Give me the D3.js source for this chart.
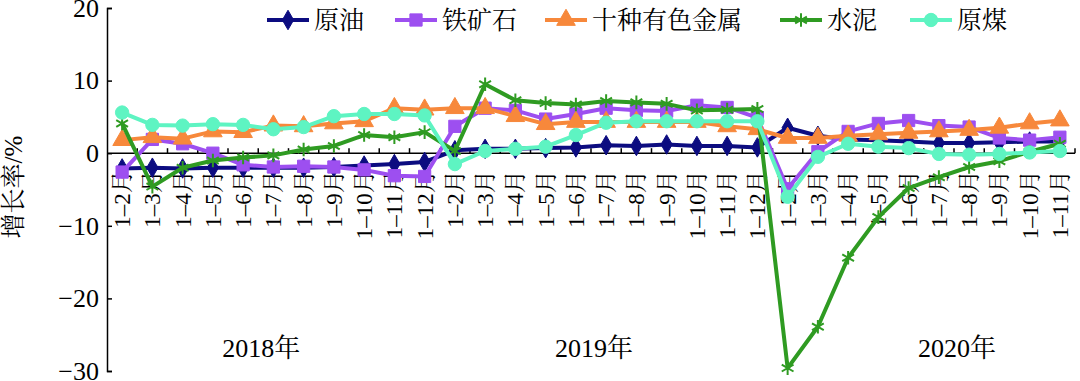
<!DOCTYPE html>
<html><head><meta charset="utf-8">
<script src="https://cdn.jsdelivr.net/npm/d3@7"></script>
<style>
html,body{margin:0;padding:0;background:#fff;}
svg{display:block;}
</style></head>
<body>
<svg id="c" width="1080" height="381"></svg>
<script>
const years = ["2018年", "2019年", "2020年"];
const months2018 = ["1–2月","1–3月","1–4月","1–5月","1–6月","1–7月","1–8月","1–9月","1–10月","1–11月","1–12月"];
const months2019 = ["1–2月","1–3月","1–4月","1–5月","1–6月","1–7月","1–8月","1–9月","1–10月","1–11月","1–12月"];
const months2020 = ["1–2月","1–3月","1–4月","1–5月","1–6月","1–7月","1–8月","1–9月","1–10月","1–11月"];
const seriesNames = ["原油", "铁矿石", "十种有色金属", "水泥", "原煤"];
const crudeOil = [-2.1,-2.0,-2.1,-2.0,-2.0,-2.0,-2.0,-1.9,-1.7,-1.5,-1.2,
                  0.4,0.6,0.6,0.7,0.8,1.1,1.0,1.2,1.0,1.0,0.8,
                  3.5,2.4,1.9,1.8,1.6,1.4,1.4,1.5,1.6,1.6];
const ironOre = [-2.6,1.9,1.3,0.0,-1.6,-1.9,-1.8,-1.9,-2.3,-3.1,-3.2,
                 3.7,6.2,5.9,4.7,5.4,6.2,5.9,5.8,6.6,6.3,4.9,
                 -4.9,0.2,3.0,4.1,4.5,3.8,3.6,2.1,1.8,2.2];
const nonferrous = [1.8,2.2,2.0,3.0,2.9,3.8,3.7,4.1,4.4,6.2,6.0,
                    6.2,6.2,5.1,4.0,4.3,4.3,4.3,4.3,4.3,3.7,3.3,
                    2.1,2.1,2.4,2.6,2.8,3.0,3.2,3.5,4.1,4.5];
const cement = [4.1,-4.6,-2.0,-1.0,-0.6,-0.3,0.5,1.0,2.5,2.2,2.9,
                0.3,9.5,7.3,6.9,6.7,7.2,7.0,6.8,5.9,6.0,6.1,
                -29.6,-23.9,-14.4,-8.8,-4.8,-3.3,-1.9,-1.1,0.2,1.3];
const rawCoal = [5.6,3.9,3.8,4.0,3.9,3.3,3.6,5.1,5.4,5.4,5.2,
                 -1.5,0.3,0.6,0.9,2.5,4.2,4.4,4.4,4.4,4.4,4.4,
                 -6.0,-0.5,1.3,0.9,0.7,-0.1,-0.2,-0.1,0.1,0.3];
const yTicks = [20, 10, 0, -10, -20, -30];

const yearMonths = [months2018, months2019, months2020];
const categories = [];
yearMonths.forEach((ms, yi) => ms.forEach(m => categories.push({key: years[yi] + m, label: m, year: yi})));

const svg = d3.select("#c");
const mLeft = 107, mRight = 1075, mTop = 8, mBottom = 371;
const x = d3.scaleBand().domain(categories.map(d => d.key)).range([mLeft, mRight]);
const y = d3.scaleLinear().domain([-30, 20]).range([mBottom, mTop]);
const cx = k => x(k) + x.bandwidth() / 2;

const serif = "'Liberation Serif','Times New Roman','Noto Serif CJK SC','Noto Sans CJK SC',serif";

// Y axis
const yAxis = d3.axisLeft(y).tickValues(yTicks).tickSize(-5).tickPadding(8);
const gy = svg.append("g").attr("transform", `translate(${mLeft},0)`).call(yAxis);
gy.select(".domain").attr("stroke", "#000").attr("stroke-width", 1.5);
gy.selectAll(".tick line").attr("stroke", "#000").attr("stroke-width", 1.5);
gy.selectAll(".tick text").attr("font-family", serif).attr("font-size", 26).attr("fill", "#000");

// X axis along zero line
const y0 = y(0);
svg.append("line").attr("x1", mLeft).attr("x2", mRight).attr("y1", y0).attr("y2", y0)
  .attr("stroke", "#000").attr("stroke-width", 1.5);
const bounds = categories.map(d => x(d.key)).concat([mRight]).slice(1);
svg.append("g").selectAll("line").data(bounds).join("line")
  .attr("x1", d => d).attr("x2", d => d).attr("y1", y0).attr("y2", y0 - 5)
  .attr("stroke", "#000").attr("stroke-width", 1.5);

// X labels
svg.append("g").selectAll("text").data(categories).join("text")
  .attr("transform", d => `translate(${cx(d.key)},${y0 + 17}) rotate(-90)`)
  .attr("text-anchor", "end").attr("dy", "0.35em")
  .attr("font-family", serif).attr("font-size", 23).attr("fill", "#000")
  .text(d => d.label);

// Year labels
const yearPos = [4.6, 15.6, 27.6];
svg.append("g").selectAll("text").data(years).join("text")
  .attr("x", (d, i) => mLeft + x.step() * (yearPos[i] + 0.5))
  .attr("y", 357).attr("text-anchor", "middle")
  .attr("font-family", serif).attr("font-size", 26).attr("fill", "#000")
  .text(d => d);

// Y title
svg.append("text").attr("transform", `translate(22,187) rotate(-90)`)
  .attr("text-anchor", "middle").attr("font-family", serif).attr("font-size", 25)
  .attr("fill", "#000").text("增长率/%");

const colors = ["#0c0c80", "#9d4ff0", "#f7883b", "#2f9b22", "#5ef4c2"];
const symbols = [d3.symbolDiamond, d3.symbolSquare, d3.symbolTriangle, d3.symbolAsterisk, d3.symbolCircle];
const sizes = [110, 150, 150, 130, 140];
const dataSets = [crudeOil, ironOre, nonferrous, cement, rawCoal];

const line = d3.line().x((d, i) => cx(categories[i].key)).y(d => y(d));

dataSets.forEach((vals, si) => {
  const g = svg.append("g");
  g.append("path").datum(vals).attr("d", line).attr("fill", "none")
    .attr("stroke", colors[si]).attr("stroke-width", 4).attr("stroke-linejoin", "round");
  const sym = d3.symbol().type(symbols[si]).size(sizes[si]);
  g.selectAll("path.m").data(vals).join("path").attr("class", "m")
    .attr("transform", (d, i) => `translate(${cx(categories[i].key)},${y(d)})`)
    .attr("d", sym)
    .attr("fill", si === 3 ? "none" : colors[si])
    .attr("stroke", colors[si]).attr("stroke-width", si === 3 ? 2 : 1);
});

// Legend
const legendX = [267, 395, 545, 780, 910];
const lg = svg.append("g");
seriesNames.forEach((n, si) => {
  const lx = legendX[si], ly = 20;
  lg.append("line").attr("x1", lx).attr("x2", lx + 42).attr("y1", ly).attr("y2", ly)
    .attr("stroke", colors[si]).attr("stroke-width", 4);
  lg.append("path").attr("transform", `translate(${lx + 21},${ly})`)
    .attr("d", d3.symbol().type(symbols[si]).size(sizes[si])())
    .attr("fill", si === 3 ? "none" : colors[si])
    .attr("stroke", colors[si]).attr("stroke-width", si === 3 ? 2 : 1);
  lg.append("text").attr("x", lx + 47).attr("y", ly).attr("dy", "0.36em")
    .attr("font-family", serif).attr("font-size", 25).attr("fill", "#000").text(n);
});
</script>
</body></html>
